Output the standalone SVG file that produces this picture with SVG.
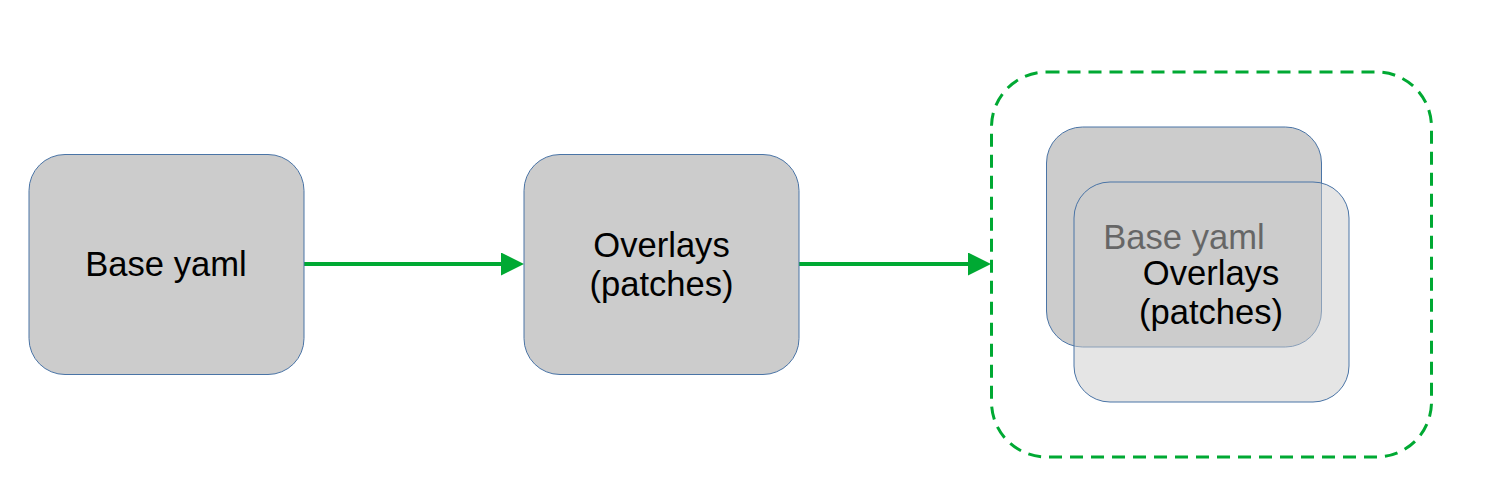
<svg xmlns="http://www.w3.org/2000/svg" width="1500" height="502" viewBox="0 0 1500 502">
  <defs>
    <style>
      .node { fill: #cccccc; stroke: #4a74a6; stroke-width: 1; }
      .label { font-family: "Liberation Sans", Arial, sans-serif; font-size: 34.6px; fill: #000000; text-anchor: middle; }
      .conn { stroke: #00a933; stroke-width: 4; fill: none; }
      .group { fill: none; stroke: #00a933; stroke-width: 3; stroke-dasharray: 13 8; }
    </style>
    <marker id="arrow" markerUnits="userSpaceOnUse" markerWidth="24" markerHeight="24" refX="2" refY="11.5" orient="auto">
      <path d="M0,0 L23,11.5 L0,23 Z" fill="#00a933"/>
    </marker>
  </defs>
  <rect width="1500" height="502" fill="#ffffff"/>

  <g id="connectors">
    <path class="conn" d="M304,264 H503" marker-end="url(#arrow)"/>
    <path class="conn" d="M799,264 H970" marker-end="url(#arrow)"/>
  </g>

  <g id="base-yaml">
    <rect class="node" x="29" y="154.5" width="275" height="220" rx="36" ry="36"/>
    <text class="label" x="166" y="276">Base yaml</text>
  </g>

  <g id="overlays">
    <rect class="node" x="524" y="154.5" width="275" height="220" rx="36" ry="36"/>
    <text class="label" x="661.5" y="257">Overlays</text>
    <text class="label" x="661.5" y="296">(patches)</text>
  </g>

  <g id="result">
    <rect class="group" x="991.5" y="72" width="440" height="385" rx="55" ry="55"/>
    <g id="result-base">
      <rect class="node" x="1046.5" y="127" width="275" height="220" rx="36" ry="36"/>
      <text class="label" x="1184" y="248.5">Base yaml</text>
    </g>
    <g id="result-overlays">
      <rect class="node" x="1074" y="182" width="275" height="220" rx="36" ry="36" style="fill-opacity:0.5"/>
      <text class="label" x="1211" y="284.5">Overlays</text>
      <text class="label" x="1211" y="323.5">(patches)</text>
    </g>
  </g>
</svg>
